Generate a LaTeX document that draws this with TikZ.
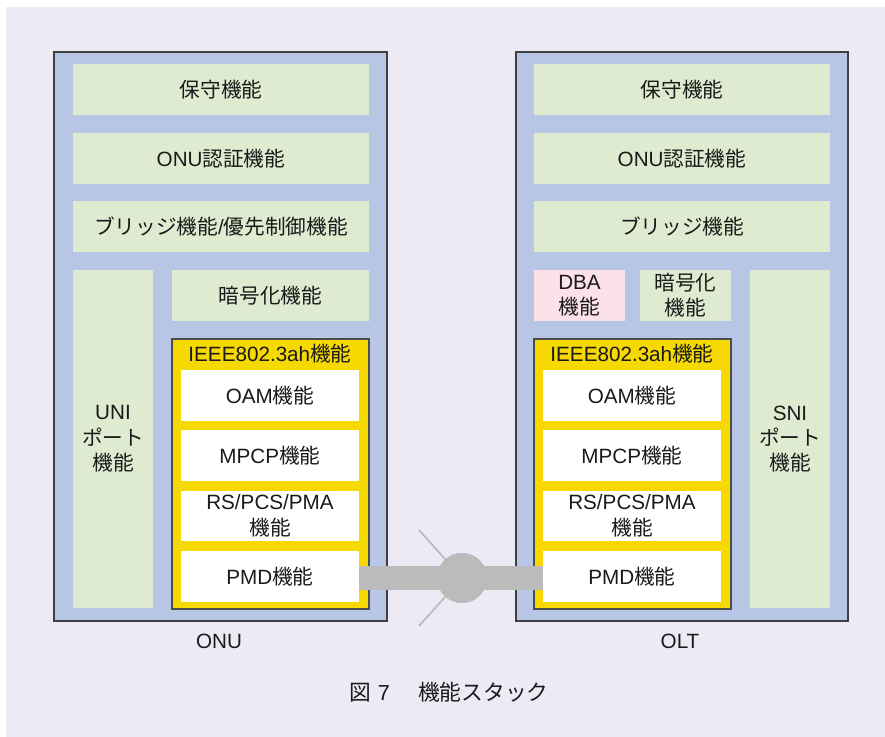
\documentclass[tikz,border=0pt]{standalone}
\usepackage{fontspec}
\setmainfont{Liberation Sans}
\newfontfamily\jp{Noto Sans CJK JP}
\newcommand\J[1]{{\jp #1}}

\definecolor{pagebg}{HTML}{ECEAF4}
\definecolor{unitblue}{HTML}{B6C6E4}
\definecolor{funcgreen}{HTML}{DEEBD1}
\definecolor{ieeeyellow}{HTML}{F5D900}
\definecolor{dbapink}{HTML}{FCE2E8}
\definecolor{linkgray}{HTML}{BBBBBB}
\definecolor{ink}{HTML}{1A1A1A}

\begin{document}
\begin{tikzpicture}[x=0.75pt,y=-0.75pt,
  font=\fontsize{15.5}{19}\selectfont, text=ink,
  % rectangle given by its corners (x1,y1) and (x2,y2)
  span/.style n args={4}{minimum width={(#3-#1)*0.75pt}, minimum height={(#4-#2)*0.75pt},
    at={({(#1+#3)/2},{(#2+#4)/2})}},
  box/.style={rectangle, inner sep=0pt, outer sep=0pt, align=center},
  unitbox/.style={box, fill=unitblue, draw=black!75, line width=1.1pt},
  funcbox/.style={box, fill=funcgreen},
  dbabox/.style={box, fill=dbapink},
  ieeebox/.style={box, fill=ieeeyellow, draw=black!70, line width=0.9pt},
  layerbox/.style={box, fill=white},
  caption/.style={inner sep=0pt}
]
\useasboundingbox (0,0) rectangle (885,737);
\fill[pagebg] (6,7) rectangle (885,737);

% ---------------- ONU ----------------
\node[unitbox, span={54}{52}{387}{621}] (onu) {};
\node[funcbox, span={73}{64}{369}{115}] (onuhosyu) {\J{保守機能}};
\node[funcbox, span={73}{133}{369}{184}] (onuauth) {ONU\J{認証機能}};
\node[funcbox, span={73}{201}{369}{252}] (onubridge) {\J{ブリッジ機能}/\J{優先制御機能}};
\node[funcbox, span={73}{270}{153}{608}] (onuuni) {UNI\\\J{ポート}\\\J{機能}};
\node[funcbox, span={172}{270}{369}{321}] (onucrypt) {\J{暗号化機能}};
\node[ieeebox, span={172}{339}{369}{609}] (onuieee) {};
\node[caption] (onuieeelabel) at (270,354) {IEEE802.3ah\J{機能}};
\node[layerbox, span={181}{370}{359}{421}] (onuoam) {OAM\J{機能}};
\node[layerbox, span={181}{430}{359}{481}] (onumpcp) {MPCP\J{機能}};
\node[layerbox, span={181}{491}{359}{541}] (onurs) {RS/PCS/PMA\\\J{機能}};
\node[layerbox, span={181}{551}{359}{602}] (onupmd) {PMD\J{機能}};
\node[caption] (onulabel) at (219,641) {ONU};

% ---------------- OLT ----------------
\node[unitbox, span={516}{52}{848}{621}] (olt) {};
\node[funcbox, span={534}{64}{830}{115}] (olthosyu) {\J{保守機能}};
\node[funcbox, span={534}{133}{830}{184}] (oltauth) {ONU\J{認証機能}};
\node[funcbox, span={534}{201}{830}{252}] (oltbridge) {\J{ブリッジ機能}};
\node[dbabox, span={534}{270}{625}{321}] (oltdba) {DBA\\\J{機能}};
\node[funcbox, span={640}{270}{731}{321}] (oltcrypt) {\J{暗号化}\\\J{機能}};
\node[funcbox, span={750}{270}{830}{608}] (oltsni) {SNI\\\J{ポート}\\\J{機能}};
\node[ieeebox, span={534}{339}{731}{609}] (oltieee) {};
\node[caption] (oltieeelabel) at (632,354) {IEEE802.3ah\J{機能}};
\node[layerbox, span={543}{370}{721}{421}] (oltoam) {OAM\J{機能}};
\node[layerbox, span={543}{430}{721}{481}] (oltmpcp) {MPCP\J{機能}};
\node[layerbox, span={543}{491}{721}{541}] (oltrs) {RS/PCS/PMA\\\J{機能}};
\node[layerbox, span={543}{551}{721}{602}] (oltpmd) {PMD\J{機能}};
\node[caption] (oltlabel) at (680,641) {OLT};

% ---------------- optical link with splitter ----------------
\coordinate (branchup) at (419,530);
\coordinate (branchdown) at (419,626);
\node[circle, fill=linkgray, minimum size=50*0.75pt, inner sep=0pt] (splitter) at (462,578) {};
\draw[linkgray, line width=1.3pt] (branchup) -- (splitter.center);
\draw[linkgray, line width=1.3pt] (branchdown) -- (splitter.center);
\node[circle, fill=linkgray, minimum size=50*0.75pt, inner sep=0pt] at (splitter) {};
\fill[linkgray] (onupmd.east |- 0,566) rectangle (oltpmd.west |- 0,590);

% ---------------- caption ----------------
\node[caption, font=\fontsize{16.3}{19}\selectfont] (figcap) at (449,692)
  {\J{図}\hspace{0.3em}7\hspace{1.3em}\J{機能スタック}};
\end{tikzpicture}
\end{document}
